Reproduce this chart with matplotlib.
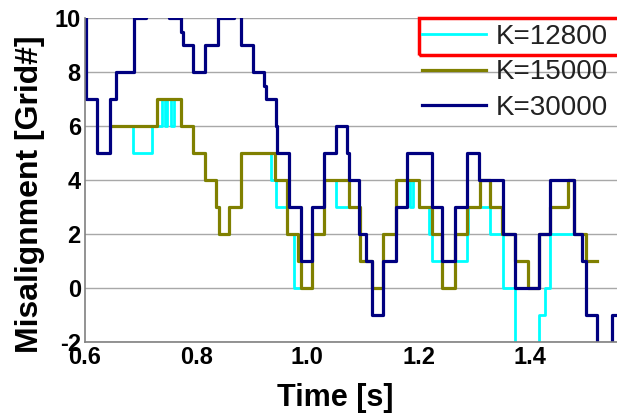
"""Misalignment step response for three K gains."""

import matplotlib

matplotlib.use("Agg")
import matplotlib.pyplot as plt
from matplotlib.patches import Rectangle

# step data: value holds from t[i] to t[i+1]
T_12800 = [0.6479, 0.6856, 0.7212, 0.7391, 0.7445, 0.7481, 0.7544, 0.7598,
           0.7718, 0.7950, 0.8150, 0.8364, 0.8411, 0.8591, 0.8813, 0.9339,
           0.9429, 0.9639, 0.9758, 1.0088, 1.0296, 1.0524, 1.0943, 1.1171,
           1.1368, 1.1589, 1.1853, 1.1907, 1.2009, 1.2194, 1.2242, 1.2871,
           1.2894, 1.3289, 1.3517, 1.3738, 1.4158, 1.4276, 1.4366, 1.4833]
V_12800 = [6, 5, 6, 7, 6, 7, 6, 7,
           6, 5, 4, 3, 2, 3, 5, 4,
           3, 2, 0, 2, 4, 3, 1, 0,
           2, 4, 3, 4, 3, 2, 1, 2,
           3, 2, 0, -3, -1, 0, 2, 2]

T_15000 = [0.6479, 0.7298, 0.7718, 0.7950, 0.8150, 0.8364, 0.8411, 0.8591,
           0.8813, 0.9411, 0.9639, 0.9824, 0.9878, 1.0088, 1.0296, 1.0749,
           1.0943, 1.1171, 1.1368, 1.1589, 1.2009, 1.2242, 1.2427, 1.2661,
           1.2871, 1.3110, 1.3289, 1.3499, 1.3738, 1.3971, 1.4158, 1.4366,
           1.4689, 1.4797, 1.5013, 1.5210]
V_15000 = [6, 7, 6, 5, 4, 3, 2, 3,
           5, 4, 2, 1, 0, 2, 4, 3,
           1, 0, 2, 4, 3, 2, 0, 2,
           3, 4, 3, 2, 1, 0, 2, 3,
           4, 2, 1, 1]

T_30000 = [0.6000, 0.6018, 0.6221, 0.6443, 0.6551, 0.6880, 0.7090, 0.7508,
           0.7724, 0.7759, 0.7950, 0.8150, 0.8388, 0.8675, 0.8801, 0.9016,
           0.9214, 0.9250, 0.9429, 0.9460, 0.9662, 0.9878, 1.0088, 1.0296,
           1.0524, 1.0722, 1.0749, 1.0928, 1.1063, 1.1171, 1.1368, 1.1601,
           1.1799, 1.2242, 1.2427, 1.2661, 1.2871, 1.3092, 1.3522, 1.3738,
           1.4158, 1.4366, 1.4797, 1.4941, 1.5013, 1.5219, 1.5474, 1.5600]
V_30000 = [10, 7, 5, 7, 8, 10, 11, 10,
           9.5, 9, 8, 9, 10, 11, 9, 8,
           7.5, 7, 6, 5, 3, 1, 3, 5,
           6, 5, 4, 2, 1, -1, 1, 3,
           5, 3, 1, 3, 5, 4, 2, 0,
           2, 4, 2, 1, -1, -3, -1, -1]

SERIES = [
    ("K=12800", T_12800, V_12800, "#00ffff", 2.0),
    ("K=15000", T_15000, V_15000, "#808000", 2.3),
    ("K=30000", T_30000, V_30000, "#000080", 2.3),
]
Y_TICKS = [-2, 0, 2, 4, 6, 8, 10]
X_TICKS = [0.6, 0.8, 1.0, 1.2, 1.4]

plt.rcParams["font.family"] = ["Liberation Sans", "DejaVu Sans"]
plt.rcParams["axes.unicode_minus"] = False

fig = plt.figure(figsize=(6.17, 4.19), dpi=100, facecolor="white")
ax = fig.add_axes([85 / 617, 1 - 342 / 419, 1 - 85 / 617, 324 / 419])

for label, t, v, color, lw in SERIES:
    ax.plot(t, v, drawstyle="steps-post", color=color, lw=lw, label=label)

ax.set_xlim(0.6, 1.557)
ax.set_ylim(-2, 10)
ax.set_xticks(X_TICKS)
ax.set_xticklabels([f"{x:.1f}" for x in X_TICKS])
ax.set_yticks(Y_TICKS)
ax.grid(True, axis="y", color="#a8a8a8", lw=1.0)
ax.set_axisbelow(True)
for side in ["right", "top"]:
    ax.spines[side].set_visible(False)
for side in ["left", "bottom"]:
    ax.spines[side].set_color("#808080")
    ax.spines[side].set_linewidth(1.2)
ax.tick_params(length=0, labelsize=17, pad=3)
for lbl in ax.get_xticklabels() + ax.get_yticklabels():
    lbl.set_fontweight("bold")

ax.set_xlabel("Time [s]", fontsize=22, fontweight="bold")
ax.xaxis.set_label_coords(0.47, -0.128)
ax.set_ylabel("Misalignment [Grid#]", fontsize=23, fontweight="bold")
ax.yaxis.set_label_coords(-0.075, 0.457)

leg = fig.legend(
    loc="upper left",
    bbox_to_anchor=(422 / 617, 1 - 24 / 419),
    frameon=False,
    fontsize=20,
    handlelength=2.3,
    handletextpad=0.35,
    labelspacing=0.34,
    borderpad=0,
    borderaxespad=0,
)
for text in leg.get_texts():
    text.set_color("#222222")

fig.patches.append(
    Rectangle((419 / 617, 1 - 55 / 419), 0.4, 37 / 419,
              transform=fig.transFigure, fill=False, edgecolor="red", lw=2.5)
)

fig.savefig("out.png", dpi=100, facecolor="white")
